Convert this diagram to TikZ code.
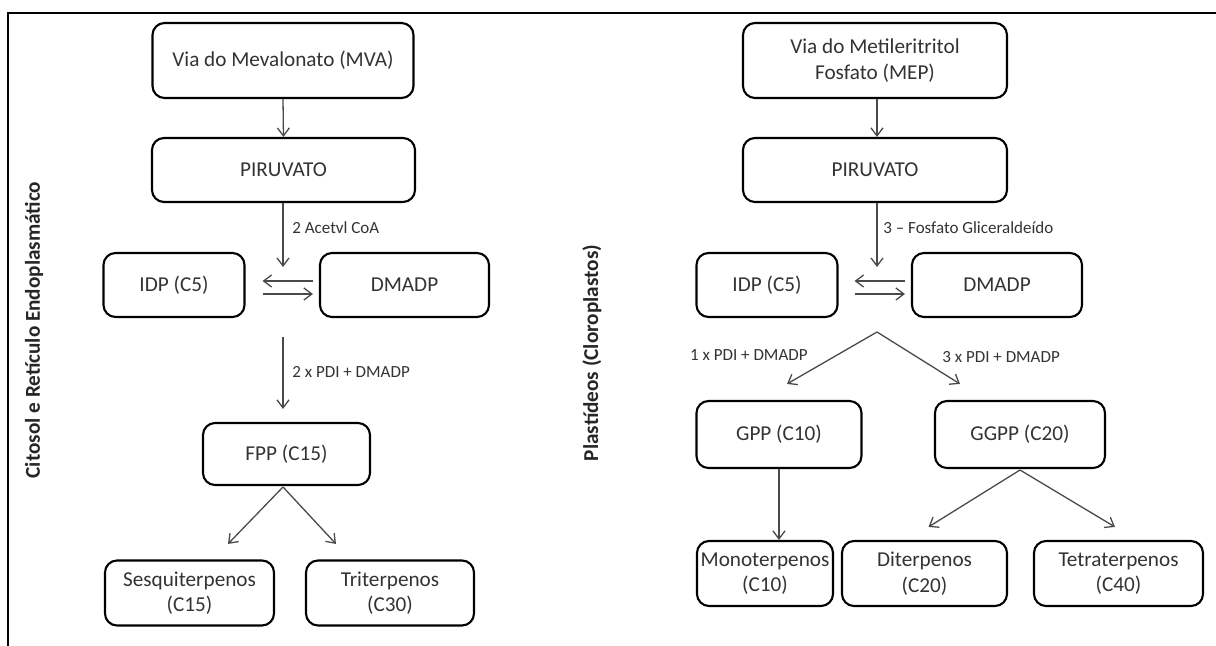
\documentclass[tikz,border=0pt]{standalone}
\usepackage{fontspec}
\setmainfont{Carlito}
\usetikzlibrary{arrows.meta,calc}
\definecolor{txt}{HTML}{333333}
\definecolor{arrc}{HTML}{4A4A4A}
\begin{document}
\begin{tikzpicture}[x=0.5pt,y=-0.5pt,
  box/.style={draw=black, line width=1.05pt, rounded corners=6pt, align=center, text=txt,
    font=\fontsize{10.6}{12.8}\selectfont, inner sep=0pt},
  sz/.style 2 args={minimum width={#1*0.5pt}, minimum height={#2*0.5pt}},
  arr/.style={draw=arrc, line width=0.65pt, -{Straight Barb[length=4pt,width=6pt]}},
  lab/.style={text=txt, font=\fontsize{8.5}{10}\selectfont, inner sep=0pt, anchor=west},
  side/.style={text=black!85, font=\bfseries\fontsize{10.6}{12}\selectfont, rotate=90, inner sep=0pt}]
\useasboundingbox (0,0) rectangle (1216,646);
\fill[white] (0,0) rectangle (1216,646);
% frame
\draw[line width=0.8pt] (8,646) -- (8,13) -- (1216,13);

% side labels
\node[side] (sideL) at (34,330) {Citosol e Retículo Endoplasmático};
\node[side] (sideR) at (592,353) {Plastídeos (Cloroplastos)};

% left column
\node[box, sz={261}{75}] (mva) at (283,60.5) {Via do Mevalonato (MVA)};
\node[box, sz={263}{64}] (piru1) at (283.5,170) {PIRUVATO};
\node[box, sz={141}{64}] (idp1) at (174,285) {IDP (C5)};
\node[box, sz={169}{64}] (dmadp1) at (404.5,285) {DMADP};
\node[box, sz={167}{62}] (fpp) at (286.5,454) {FPP (C15)};
\node[box, sz={169}{65}] (sesq) at (189.5,593) {Sesquiterpenos\\(C15)};
\node[box, sz={168}{65}] (trit) at (390,593) {Triterpenos\\(C30)};

% right column
\node[box, sz={264}{75}] (mep) at (875,60.5) {Via do Metileritritol\\Fosfato (MEP)};
\node[box, sz={264}{64}] (piru2) at (875,170) {PIRUVATO};
\node[box, sz={141}{64}] (idp2) at (767,285) {IDP (C5)};
\node[box, sz={170}{64}] (dmadp2) at (997,285) {DMADP};
\node[box, sz={165}{67}] (gpp) at (779,434.5) {GPP (C10)};
\node[box, sz={170}{67}] (ggpp) at (1020,434.5) {GGPP (C20)};
\node[box, sz={136}{65}] (mono) at (765,573.5) {Monoterpenos\\(C10)};
\node[box, sz={165}{65}] (dite) at (924.5,573.5) {Diterpenos\\(C20)};
\node[box, sz={169}{65}] (tetra) at (1118.5,573.5) {Tetraterpenos\\(C40)};

% left connectors
\draw[arr] (mva.south) -- (piru1.north);
\coordinate (c1) at (283,267);
\draw[arr] (piru1.south -| c1) -- (c1);
\node[lab] (l1) at (292,228) {2 Acetvl CoA};
\draw[arr] ($(dmadp1.west)+(-6,-4)$) -- ($(idp1.east)+(17,-4)$);
\draw[arr] ($(idp1.east)+(17,9)$) -- ($(dmadp1.west)+(-6,9)$);
\coordinate (c2) at (283,337);
\draw[arr] (c2) -- (c2 |- fpp.north) [shorten >=6.5pt];
\node[lab] (l2) at (292,372) {2 x PDI + DMADP};
\coordinate (c3) at (283,487);
\draw[arr] (c3) -- ($(sesq.north)+(38.5,-15.5)$);
\draw[arr] (c3) -- ($(trit.north)+(-54,-15.5)$);

% right connectors
\draw[arr] (mep.south -| 877,0) -- (piru2.north -| 877,0);
\coordinate (c4) at (877,267);
\draw[arr] (piru2.south -| c4) -- (c4);
\node[lab] (l3) at (883,228) {3 -- Fosfato Gliceraldeído};
\draw[arr] ($(dmadp2.west)+(-6,-4)$) -- ($(idp2.east)+(16,-4)$);
\draw[arr] ($(idp2.east)+(16,9)$) -- ($(dmadp2.west)+(-6,9)$);
\coordinate (c5) at (877,332);
\draw[arr] (c5) -- ($(gpp.north)+(8,-16)$);
\draw[arr] (c5) -- ($(ggpp.north)+(-60,-16)$);
\node[lab, anchor=east] (l4) at (808,355) {1 x PDI + DMADP};
\node[lab] (l5) at (942,357) {3 x PDI + DMADP};
\draw[arr] (gpp.south) -- (gpp.south |- mono.north);
\coordinate (c6) at (1020,470);
\draw[arr] (c6) -- ($(dite.north)+(4,-13)$);
\draw[arr] (c6) -- ($(tetra.north)+(-3.5,-13)$);
\end{tikzpicture}
\end{document}
